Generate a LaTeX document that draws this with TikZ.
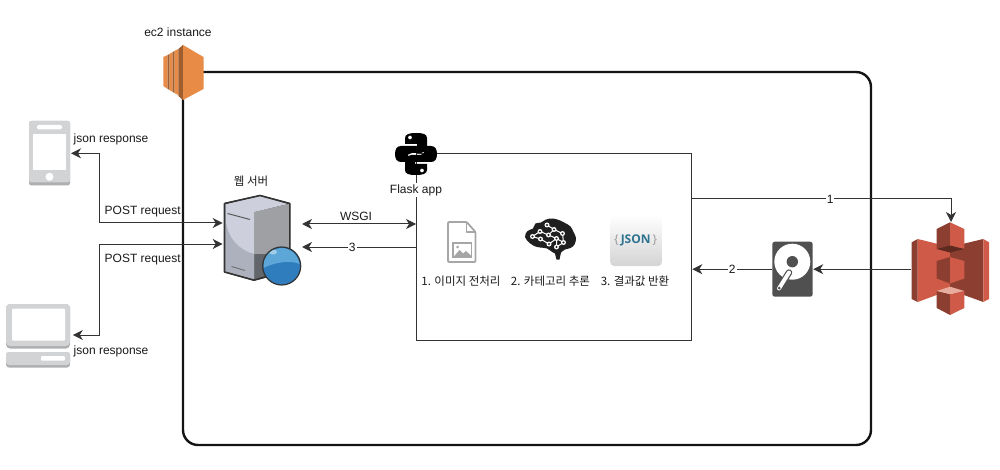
\documentclass[tikz,border=0pt]{standalone}
\usepackage{fontspec}
\setmainfont{Liberation Sans}
\newfontfamily\kr{Noto Sans CJK KR}
\newfontfamily\jsonf{Open Sans}
\usetikzlibrary{arrows.meta,calc}
\definecolor{ec2main}{HTML}{E88B46}
\definecolor{ec2dark}{HTML}{9E5E30}
\definecolor{devgray}{HTML}{D2D3D4}
\definecolor{devshade}{HTML}{AEAFB0}
\definecolor{s3light}{HTML}{CF5A47}
\definecolor{s3dark}{HTML}{8C3F30}
\definecolor{s3deep}{HTML}{5E2A20}
\definecolor{s3lid}{HTML}{E8AC9F}
\definecolor{hdd}{HTML}{505050}
\tikzset{
  lbl/.style={font=\fontsize{12}{14}\selectfont,inner sep=1pt,text=black!90},
  lblw/.style={lbl,fill=white},
  krl/.style={lbl,font=\kr\fontsize{11.5}{14}\selectfont},
  icon/.style={inner sep=0pt,outer sep=0pt,draw=none},
  flow/.style={draw=black!80,line width=1pt,-{Stealth[length=10pt,width=10pt,inset=3pt]}},
  flowb/.style={draw=black!80,line width=1pt,{Stealth[length=10pt,width=10pt,inset=3pt]}-{Stealth[length=10pt,width=10pt,inset=3pt]}},
  ec2box/.style={draw=black!92,line width=2.4pt,rounded corners=15pt,outer sep=0pt},
  flaskbox/.style={draw=black!80,line width=1pt,outer sep=0pt},
}
\begin{document}
\begin{tikzpicture}[x=1pt,y=-1pt]
\useasboundingbox (0,0) rectangle (1000,470);
% containers
\node[ec2box,minimum width=688pt,minimum height=373pt,anchor=north west,inner sep=0pt] (ec2) at (183,72) {};
\node[flaskbox,minimum width=275pt,minimum height=186pt,anchor=north west,inner sep=0pt] (flask) at (416,154) {};
% icon placeholders used as connector ends
\node[icon,minimum width=43pt,minimum height=64pt] (phone) at (49.5,153.3) {};
\node[icon,minimum width=67pt,minimum height=63pt] (desktop) at (39.3,335) {};
\node[icon,minimum width=81pt,minimum height=90pt] (server) at (263,240) {};
\node[icon,minimum width=41pt,minimum height=55pt] (disk) at (792.7,269.2) {};
\node[icon,minimum width=80pt,minimum height=80pt] (s3) at (951,262) {};
\coordinate (srvA) at (222.7,223);
\coordinate (srvB) at (222.7,244);
\coordinate (srvC) at (302,224);
\coordinate (srvD) at (302,247);
\coordinate (flA) at (flask.west |- srvC);
\coordinate (flB) at (flask.west |- srvD);
\coordinate (flC) at (flask.east |- 0,199);
\coordinate (flD) at (692.3,269.2);
% connectors
\draw[flowb] (phone.east) -| (99.3,223) -- (srvA);
\draw[flowb] (desktop.east) -| (99.3,244) -- (srvB);
\draw[flowb] (srvC) -- (flA);
\node[lbl] (wsgi) at (356,216) {WSGI};
\draw[flow] (flB) -- node[lblw,pos=0.56] (n3) {3} (srvD);
\draw[flow] (flC) -- node[lblw,pos=0.535] (n1) {1} (s3.north |- flC) -- (s3.north);
\draw[flow] (disk.west) -- node[lblw,pos=0.5] (n2) {2} (flD);
\draw[flow] (s3.west |- disk) -- (disk.east);
% EC2 icon
\fill[ec2main] (163.3,57) -- (167.7,55) -- (167.7,89) -- (163.3,86) -- cycle;
\fill[ec2dark] (167.7,55) -- (169.5,54) -- (169.5,90) -- (167.7,89) -- cycle;
\fill[ec2main] (169.5,54) -- (172.7,52) -- (172.7,92) -- (169.5,90) -- cycle;
\fill[ec2dark] (172.7,52) -- (174.5,51) -- (174.5,93) -- (172.7,92) -- cycle;
\fill[ec2main] (174.5,51) -- (178.3,49) -- (178.3,95) -- (174.5,93) -- cycle;
\fill[ec2dark] (178.3,49) -- (183,45) -- (183,100) -- (178.3,96) -- cycle;
\fill[ec2main] (183,45) -- (203.5,57) -- (203.5,89) -- (183,100) -- cycle;
% phone
\fill[devshade,rounded corners=2.5pt] (29,121) rectangle (70,185.5);
\fill[devgray,rounded corners=2.5pt] (29,121) rectangle (70,182.5);
\fill[white] (33,134) rectangle (66,170);
\fill[white,rounded corners=1.5pt] (37,125) rectangle (62,129.5);
\fill[white] (49.5,176.8) circle (4);
% desktop
\fill[devshade,rounded corners=4pt] (6,304) rectangle (70,348.5);
\fill[devgray,rounded corners=4pt] (6,304) rectangle (70,346);
\fill[white,rounded corners=1pt] (12,308.5) rectangle (65,340.5);
\fill[devshade,rounded corners=3pt] (6,352) rectangle (70,367.5);
\fill[devgray,rounded corners=3pt] (6,352) rectangle (70,365);
\fill[white,rounded corners=1pt] (41,356) rectangle (65,360.5);
% server
\fill[rounded corners=1pt,fill=black!75] (224,203) -- (260,195) -- (290,203) -- (290,272) -- (254,280.7) -- (224,272.3) -- cycle;
\fill[fill={rgb,255:red,173;green,177;blue,190}] (225,204) -- (254.3,212) -- (254.3,279.5) -- (225,271.5) -- cycle;
\fill[fill={rgb,255:red,158;green,160;blue,163}] (254.3,212) -- (289,204) -- (289,271.5) -- (254.3,279.5) -- cycle;
\fill[fill={rgb,255:red,98;green,101;blue,106}] (254.3,254) .. controls (270,254.5) and (282,253) .. (289,249) -- (289,271.5) -- (254.3,279.5) -- cycle;
\fill[fill={rgb,255:red,205;green,208;blue,220}] (226,204) -- (260,196) -- (288,204) -- (254.3,212) -- (254.3,254) .. controls (240,250) and (229,240) .. (226,222) -- cycle;
\draw[black!65,line width=1pt] (227.5,213.5) -- (250,219.5);
\draw[black!55,line width=1pt] (231.5,266.5) -- (245,270.5);
\draw[black!80,line width=1.6pt,line join=round] (224.5,203.5) -- (260,195.5) -- (289.8,203.5) -- (289.8,250);
\draw[black!80,line width=1.6pt,line join=round] (224.5,203.5) -- (224.5,272) -- (254,280.2) -- (265,277);
% globe
\fill[fill={rgb,255:red,48;green,125;blue,190}] (281.7,266) circle (19);
\fill[fill={rgb,255:red,92;green,167;blue,216}] (263.5,262) .. controls (266,252) and (275,248) .. (283,248) .. controls (292,249) and (298,256) .. (299.5,264) .. controls (291,260) and (275,262) .. (263.5,268) -- cycle;
\fill[fill={rgb,255:red,160;green,205;blue,232}] (273,252) ellipse (4 and 2.5);
\draw[black!80,line width=1.2pt] (281.7,266) circle (19);
% python logo
\begin{scope}[shift={(416,154)}]
\foreach \r in {0,180}{
\begin{scope}[rotate=\r]
\fill[even odd rule,black] (-11,-16) .. controls (-11,-20) and (-6,-21) .. (0,-21) .. controls (7,-21) and (11,-20) .. (11,-16) -- (11,-6.5) .. controls (11,-3) and (8,-1) .. (5,-1) -- (-4,-1) .. controls (-7,-1) and (-9,1) .. (-9,4) -- (-9,8) -- (-15,8) .. controls (-19,8) and (-21,5) .. (-21,0) .. controls (-21,-5) and (-19,-8) .. (-15,-8) -- (1,-8) -- (1,-10) -- (-11,-10) -- cycle (-6,-16.5) circle (2);
\end{scope}}
\end{scope}
\node[lblw,inner sep=1.5pt] (flasklbl) at (416,190) {Flask app};
% file icon
\draw[black!35,line width=1.8pt,line join=round,rounded corners=1pt] (448,222) -- (466.7,222) -- (475.5,232) -- (475.5,262) -- (448,262) -- cycle;
\draw[black!35,line width=1.2pt,line join=round] (466.7,222) -- (466.7,232) -- (475.5,232);
\draw[black!35,line width=1.6pt] (453,243) rectangle (471.5,257.5);
\fill[black!35] (453,257.5) -- (459.5,250) -- (463,253.5) -- (466,251) -- (471.5,256) -- (471.5,257.5) -- cycle;
\fill[black!35] (457.5,247) circle (1.5);
% brain
\fill[black!88] plot[smooth cycle,tension=0.6] coordinates {(525,237) (527.5,231) (533,228.5) (535.5,223.5) (541,222.5) (546,219.5) (553,218.5) (560,220.5) (565,223) (570.5,226.5) (573.5,232) (576,238) (574.5,244.5) (570.5,248) (565,249.5) (561,252.5) (558,254) (553,252.5) (547,248.5) (540,247.5) (534,246) (529.5,243)};
\fill[black!88] (554,250) -- (561.5,250) -- (559.5,259.5) -- (556.5,259.5) -- cycle;
\draw[white,line width=1pt] (547,225) -- (554,229.5) -- (562.5,233.5) -- (563.5,242.5) -- (556.5,247);
\draw[white,line width=1pt] (540,231.5) -- (532.5,236.5) -- (540.5,239) -- (549,244) -- (556.5,238.5) -- (548.5,235) -- (540,231.5);
\draw[white,line width=1pt] (554,229.5) -- (548.5,235) (556.5,238.5) -- (563.5,242.5) (556.5,247) -- (556.5,238.5);
\foreach \x/\y in {547/225,554/229.5,562.5/233.5,540/231.5,532.5/236.5,540.5/239,549/244,556.5/238.5,548.5/235,563.5/242.5,556.5/247}{
  \fill[white] (\x,\y) circle (2.5);
  \fill[black!88] (\x,\y) circle (1.1);
}
% json tile
\path[top color=white,bottom color=black!17,rounded corners=4pt] (610.3,215) rectangle (662,266);
\node[icon,font=\jsonf\fontsize{12}{14}\selectfont] (jsontxt) at (635.7,240) {\textcolor{black!40}{\{}\,\textcolor[HTML]{2F7391}{\bfseries JSON}\,\textcolor{black!40}{\}}};
% disk
\fill[hdd,rounded corners=2.5pt] (772.3,241.7) rectangle (812.7,296.7);
\fill[white] (792.3,261.7) circle (18);
\fill[hdd] (792.3,261.7) circle (5.7);
\draw[hdd,line width=6.4pt,line cap=round] (789,272.5) -- (779,288.5);
\draw[white,line width=4pt,line cap=round] (789,272.5) -- (779,288.5);
\fill[hdd] (779.2,288.2) circle (1.5);
% s3
\fill[s3light] (917.7,239) -- (950,247) -- (950,290) -- (917.7,302) -- cycle;
\fill[s3dark] (911.7,242.3) -- (917.7,239) -- (917.7,302) -- (911.7,299) -- cycle;
\fill[s3dark] (950,247) -- (983.3,239) -- (983.3,302) -- (950,290) -- cycle;
\fill[s3light] (983.3,239) -- (989,242.3) -- (989,299) -- (983.3,302) -- cycle;
\fill[s3dark] (936.7,229) -- (950,222.3) -- (950,251.5) -- (936.7,248.5) -- cycle;
\fill[s3light] (950,222.3) -- (964.3,229) -- (964.3,248.5) -- (950,251.5) -- cycle;
\fill[s3deep] (936.7,249) -- (950,245.5) -- (964.3,249) -- (950,252.5) -- cycle;
\fill[s3dark] (936.7,261) -- (950,257) -- (950,283.5) -- (936.7,278.5) -- cycle;
\fill[s3light] (950,257) -- (964.3,261) -- (964.3,278.5) -- (950,283.5) -- cycle;
\fill[s3dark] (936.7,291) -- (950,294) -- (950,315) -- (936.7,308) -- cycle;
\fill[s3light] (950,294) -- (964.3,291) -- (964.3,308) -- (950,315) -- cycle;
\fill[s3lid] (936.7,291) -- (950,286.7) -- (964.3,291) -- (950,294) -- cycle;
% labels
\node[lbl,anchor=center] (ec2lbl) at (178,32) {ec2 instance};
\node[lbl,anchor=west] (jr1) at (72.5,139) {json response};
\node[lbl,anchor=west] (jr2) at (72.5,351) {json response};
\node[lbl,anchor=west] (pr1) at (103.5,211.5) {POST request};
\node[lbl,anchor=west] (pr2) at (103.5,260) {POST request};
\node[krl] (websrv) at (251,181) {웹 서버};
\node[krl] (step1) at (461,281) {1. 이미지 전처리};
\node[krl] (step2) at (550.5,281) {2. 카테고리 추론};
\node[krl] (step3) at (635,281) {3. 결과값 반환};
\end{tikzpicture}
\end{document}
